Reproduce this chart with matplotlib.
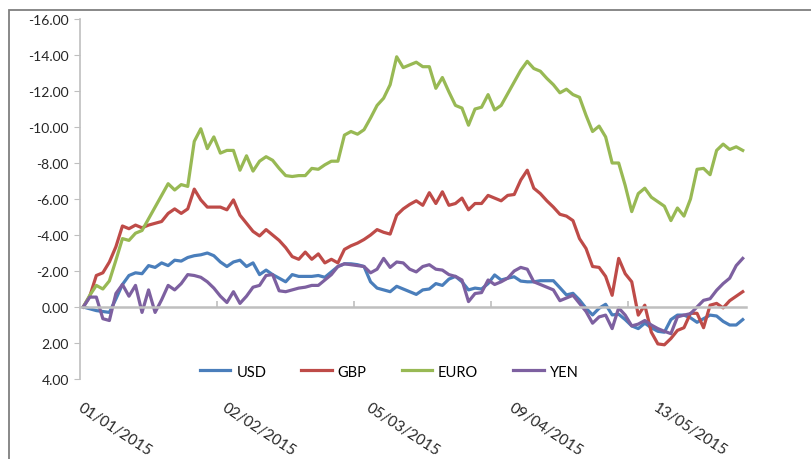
import numpy as np
import matplotlib
matplotlib.use("Agg")
import matplotlib.pyplot as plt
from matplotlib.ticker import FormatStrFormatter, MultipleLocator
from matplotlib.patches import Rectangle

# cumulative change per currency, one value per trading day
usd = [0, 0.1, 0.2, 0.25, 0.3, -0.45, -1.25, -1.75, -1.9, -1.85,
       -2.3, -2.2, -2.45, -2.3, -2.6, -2.55, -2.75, -2.85, -2.9, -3.0,
       -2.85, -2.5, -2.25, -2.5, -2.6, -2.25, -2.45, -1.8, -2.05, -1.8,
       -1.6, -1.4, -1.8, -1.7, -1.7, -1.7, -1.75, -1.65, -1.95, -2.25,
       -2.4, -2.4, -2.35, -2.25, -1.4, -1.05, -0.95, -0.85, -1.15, -1.0,
       -0.85, -0.7, -0.95, -1.0, -1.3, -1.2, -1.55, -1.7, -1.4, -0.95,
       -1.05, -1.0, -1.3, -1.78, -1.5, -1.6, -1.68, -1.44, -1.4, -1.4,
       -1.46, -1.46, -1.46, -1.07, -0.67, -0.76, -0.39, 0.07, 0.44, 0.07,
       -0.15, 0.44, 0.4, 0.7, 1.05, 1.2, 0.9, 1.15, 1.35, 1.4,
       0.7, 0.45, 0.45, 0.6, 0.85, 0.65, 0.45, 0.5, 0.8, 1.0,
       1.0, 0.7]
gbp = [0, -0.6, -1.75, -1.9, -2.5, -3.35, -4.5, -4.35, -4.55, -4.4,
       -4.55, -4.65, -4.75, -5.2, -5.45, -5.2, -5.45, -6.55, -5.95, -5.55,
       -5.55, -5.55, -5.4, -5.95, -5.1, -4.65, -4.2, -3.95, -4.3, -4.0,
       -3.7, -3.3, -2.8, -2.65, -3.05, -2.65, -2.95, -2.45, -2.65, -2.45,
       -3.2, -3.4, -3.55, -3.75, -4.0, -4.3, -4.15, -4.05, -5.1, -5.45,
       -5.7, -5.9, -5.65, -6.35, -5.75, -6.4, -5.65, -5.75, -6.05, -5.4,
       -5.75, -5.75, -6.2, -6.05, -5.9, -6.2, -6.25, -7.05, -7.6, -6.6,
       -6.3, -5.9, -5.55, -5.15, -5.05, -4.8, -3.8, -3.25, -2.25, -2.2,
       -1.7, -0.65, -2.7, -1.85, -1.4, 0.45, -0.1, 1.4, 2.05, 2.1,
       1.75, 1.3, 1.15, 0.35, 0.35, 1.15, -0.1, -0.2, 0.05, -0.35,
       -0.6, -0.85]
euro = [0, -0.65, -1.2, -1.0, -1.45, -2.6, -3.8, -3.7, -4.1, -4.25,
        -4.9, -5.55, -6.2, -6.85, -6.5, -6.8, -6.7, -9.2, -9.9, -8.8,
        -9.45, -8.55, -8.7, -8.7, -7.6, -8.4, -7.55, -8.1, -8.35, -8.15,
        -7.7, -7.3, -7.25, -7.3, -7.3, -7.7, -7.65, -7.9, -8.1, -8.1,
        -9.55, -9.75, -9.6, -9.85, -10.5, -11.2, -11.6, -12.35, -13.9, -13.3,
        -13.45, -13.6, -13.35, -13.35, -12.15, -12.75, -11.95, -11.2, -11.05, -10.1,
        -11.0, -11.1, -11.8, -10.95, -11.2, -11.85, -12.5, -13.15, -13.65, -13.25,
        -13.1, -12.7, -12.35, -11.9, -12.1, -11.8, -11.65, -10.65, -9.75, -10.05,
        -9.45, -8.0, -8.0, -6.75, -5.3, -6.3, -6.6, -6.1, -5.85, -5.6,
        -4.8, -5.5, -5.05, -6.0, -7.65, -7.7, -7.35, -8.7, -9.05, -8.75,
        -8.9, -8.7]
yen = [0, -0.55, -0.55, 0.65, 0.75, -0.75, -1.25, -0.6, -1.2, 0.3,
       -0.95, 0.3, -0.4, -1.2, -0.95, -1.3, -1.8, -1.75, -1.65, -1.4,
       -1.05, -0.6, -0.25, -0.85, -0.2, -0.6, -1.1, -1.2, -1.75, -1.8,
       -0.9, -0.85, -0.95, -1.05, -1.1, -1.2, -1.2, -1.5, -1.8, -2.25,
       -2.4, -2.35, -2.3, -2.25, -1.9, -2.1, -2.7, -2.2, -2.5, -2.45,
       -2.1, -1.95, -2.25, -2.35, -2.1, -2.05, -1.8, -1.7, -1.5, -0.3,
       -0.75, -0.8, -1.5, -1.25, -1.4, -1.6, -2.0, -2.2, -2.1, -1.4,
       -1.25, -1.1, -0.95, -0.35, -0.5, -0.65, -0.2, 0.25, 0.9, 0.55,
       0.45, 1.2, 0.05, 0.45, 1.05, 0.95, 0.75, 1.0, 1.2, 1.35,
       1.48, 0.55, 0.45, 0.37, 0.0, -0.37, -0.46, -0.93, -1.3, -1.6,
       -2.3, -2.7]

date_labels = ["01/01/2015", "02/02/2015", "05/03/2015", "09/04/2015", "13/05/2015"]
label_step = 22
tick_step = 21

plt.rcParams["font.family"] = ["Lato", "DejaVu Sans"]

x = np.arange(len(usd))
fig = plt.figure(figsize=(8.11, 4.60), dpi=100)
ax = fig.add_axes([80 / 811, 1 - 380 / 460, 666 / 811, 360 / 460])

ax.plot(x, usd, color="#4a7ebb", lw=2.3, label="USD")
ax.plot(x, gbp, color="#be4b48", lw=2.3, label="GBP")
ax.plot(x, euro, color="#98b954", lw=2.3, label="EURO")
ax.plot(x, yen, color="#7d60a0", lw=2.3, label="YEN")

ax.set_xlim(-0.5, len(x) - 0.5)
ax.set_ylim(4, -16)

ax.yaxis.set_major_locator(MultipleLocator(2))
ax.yaxis.set_major_formatter(FormatStrFormatter("%.2f"))
ax.tick_params(axis="y", direction="out", length=4, color="#bfbfbf",
               labelsize=10, labelcolor="#262626", pad=4)

for side in ["top", "right"]:
    ax.spines[side].set_visible(False)
ax.spines["left"].set_color("#bfbfbf")
ax.spines["left"].set_linewidth(1.2)
ax.spines["bottom"].set_position(("data", 0))
ax.spines["bottom"].set_color("#bfbfbf")
ax.spines["bottom"].set_linewidth(1.8)

ax.set_xticks(np.arange(0, len(x), label_step))
ax.set_xticklabels(date_labels, rotation=-33, ha="left", va="top",
                   rotation_mode="anchor")
ax.set_xticks(np.arange(-0.5, len(x), tick_step)[1:], minor=True)
ax.tick_params(axis="x", which="major", length=0, pad=67, labelsize=11,
               labelcolor="#262626")
ax.tick_params(axis="x", which="minor", direction="in", length=4,
               color="#bfbfbf", width=1.2)

fig.legend(loc="center", bbox_to_anchor=(0.48, 0.19), ncol=4, frameon=False,
           handlelength=2.1, columnspacing=2.4, handletextpad=0.4,
           fontsize=10.5)

fig.patches.append(Rectangle((9 / 811, -0.1), 1.2, 1.1 - 11 / 460,
                             transform=fig.transFigure, fill=False,
                             edgecolor="#7f7f7f", lw=1.3))

plt.savefig("out.png", dpi=100)
